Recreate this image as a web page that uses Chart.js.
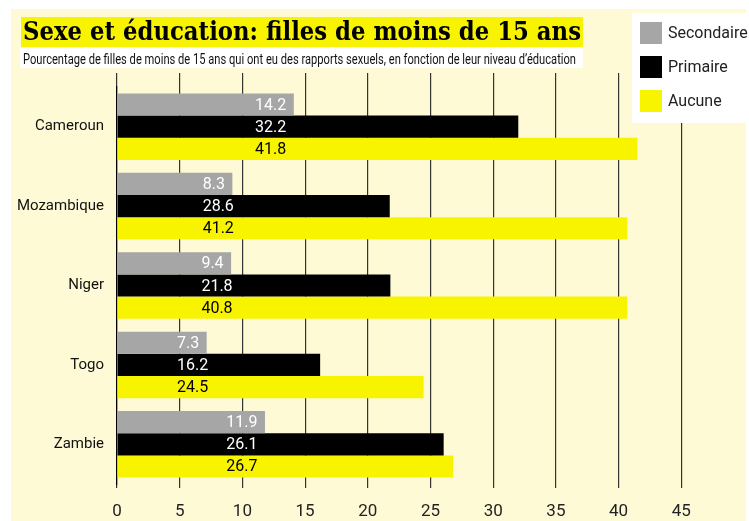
<!DOCTYPE html>
<html>
<head>
<meta charset="utf-8">
<script src="https://cdn.jsdelivr.net/npm/chart.js@4.4.1/dist/chart.umd.min.js"></script>
<style>
  html, body { margin: 0; padding: 0; background: #fff; }
  #wrap { width: 749px; height: 521px; }
</style>
</head>
<body>
<div id="wrap"><canvas id="chart" width="749" height="521"></canvas></div>
<script>
// Sexe et éducation — horizontal grouped bars, 3 niveaux d'éducation par pays

const TITLE    = 'Sexe et éducation: filles de moins de 15 ans';
const SUBTITLE = 'Pourcentage de filles de moins de 15 ans qui ont eu des rapports sexuels, en fonction de leur niveau d\u2019éducation';

const COUNTRIES    = ['Cameroun', 'Mozambique', 'Niger', 'Togo', 'Zambie'];
const SERIES_NAMES = ['Secondaire', 'Primaire', 'Aucune'];

// numbers printed on the bars
const secondaire = [14.2, 8.3, 9.4, 7.3, 11.9];
const primaire   = [32.2, 28.6, 21.8, 16.2, 26.1];
const aucune     = [41.8, 41.2, 40.8, 24.5, 26.7];

// bar lengths as drawn in the original (Mozambique bars don't follow their printed numbers)
const secondaireBars = [14.1, 9.2, 9.1, 7.15, 11.8];
const primaireBars   = [32.0, 21.75, 21.8, 16.2, 26.05];
const aucuneBars     = [41.5, 40.7, 40.7, 24.45, 26.8];

const X_MIN = 0, X_MAX = 50, X_STEP = 5;

const GRAY   = '#a6a6a6';
const BLACK  = '#000000';
const YELLOW = '#f8f400';
const CREAM  = '#fefad6';
const GRID   = '#333333';

function fitText(ctx, text, x, baseline, width, font) {
    ctx.font = font;
    const w = ctx.measureText(text).width;
    ctx.save();
    ctx.translate(x, baseline);
    ctx.scale(width / w, 1);
    ctx.textAlign = 'left';
    ctx.textBaseline = 'alphabetic';
    ctx.fillText(text, 0, 0);
    ctx.restore();
}

const decorations = {
    id: 'decorations',
    beforeDraw(chart) {
        const ctx = chart.ctx;
        ctx.save();
        ctx.fillStyle = '#ffffff';
        ctx.fillRect(0, 0, chart.width, chart.height);
        ctx.fillStyle = CREAM;
        ctx.fillRect(11, 9, 735, 512);

        // title on yellow band
        ctx.fillStyle = YELLOW;
        ctx.fillRect(21, 17, 562, 30);
        ctx.fillStyle = '#000';
        fitText(ctx, TITLE, 23, 40, 558, 'bold 26px "DejaVu Serif"');

        // subtitle on white strip
        ctx.fillStyle = '#ffffff';
        ctx.fillRect(20, 48, 563, 20);
        ctx.fillStyle = '#111';
        fitText(ctx, SUBTITLE, 23, 63.5, 553, '14px Roboto');
        ctx.restore();
    },
    afterDatasetsDraw(chart) {
        const ctx = chart.ctx;
        const xs = chart.scales.x;
        ctx.save();
        ctx.font = '16px Roboto';
        ctx.textAlign = 'left';
        ctx.textBaseline = 'middle';
        COUNTRIES.forEach((c, i) => {
            const first = chart.data.datasets[0];
            const lab0 = first.printed[i].toFixed(1);
            const left = xs.getPixelForValue(first.data[i]) - 7.5 - ctx.measureText(lab0).width;
            chart.data.datasets.forEach((ds, d) => {
                const bar = chart.getDatasetMeta(d).data[i];
                ctx.fillStyle = ds.textColor;
                ctx.fillText(ds.printed[i].toFixed(1), left, bar.y + 1);
            });
        });
        ctx.restore();
    },
    afterDraw(chart) {
        // legend box, top right
        const ctx = chart.ctx;
        ctx.save();
        ctx.fillStyle = '#ffffff';
        ctx.fillRect(632, 13, 117, 110);
        ctx.font = '16px Roboto';
        ctx.textAlign = 'left';
        ctx.textBaseline = 'middle';
        chart.data.datasets.forEach((ds, d) => {
            const y = 22 + d * 34;
            ctx.fillStyle = ds.backgroundColor;
            ctx.fillRect(640, y, 22, 22);
            ctx.fillStyle = '#222';
            ctx.fillText(ds.label, 668, y + 11.5);
        });
        ctx.restore();
    }
};

const gridColor = c => (c.tick && c.tick.value === X_MAX) ? 'rgba(0,0,0,0)' : GRID;

new Chart(document.getElementById('chart').getContext('2d'), {
    type: 'bar',
    data: {
        labels: COUNTRIES,
        datasets: [
            { label: SERIES_NAMES[0], data: secondaireBars, printed: secondaire, backgroundColor: GRAY,   textColor: '#ffffff' },
            { label: SERIES_NAMES[1], data: primaireBars,   printed: primaire,   backgroundColor: BLACK,  textColor: '#ffffff' },
            { label: SERIES_NAMES[2], data: aucuneBars,     printed: aucune,     backgroundColor: YELLOW, textColor: '#000000' },
        ],
    },
    options: {
        indexAxis: 'y',
        responsive: false,
        animation: false,
        devicePixelRatio: 1,
        layout: { padding: { left: 0, right: 5, top: 0, bottom: 0 } },
        datasets: { bar: { categoryPercentage: 0.8375, barPercentage: 1, borderWidth: 0 } },
        plugins: { legend: { display: false }, tooltip: { enabled: false }, title: { display: false } },
        scales: {
            x: {
                type: 'linear', position: 'bottom', min: X_MIN, max: X_MAX,
                afterFit: s => { s.height = 37; s.paddingLeft = 0; s.paddingRight = 0; },
                ticks: {
                    stepSize: X_STEP, padding: 14, color: '#222',
                    font: { family: 'Roboto', size: 17 },
                    callback: v => v === X_MAX ? '' : v,
                },
                grid: { color: gridColor, lineWidth: 1.2, tickLength: 4 },
                border: { display: false },
            },
            x2: {
                axis: 'x', type: 'linear', position: 'top', min: X_MIN, max: X_MAX,
                afterFit: s => { s.height = 87; s.paddingLeft = 0; s.paddingRight = 0; },
                ticks: { display: false, stepSize: X_STEP },
                grid: { color: gridColor, lineWidth: 1.2, tickLength: 14, drawOnChartArea: false },
                border: { display: false },
            },
            y: {
                afterFit: s => { s.width = 117; s.paddingTop = 0; s.paddingBottom = 0; },
                grid: { display: false, drawTicks: false, tickLength: 0 },
                border: { display: true, color: '#000', width: 1.2 },
                ticks: { padding: 13, color: '#111', font: { family: 'Roboto', size: 15 } },
            },
        },
    },
    plugins: [decorations],
});
</script>
</body>
</html>
